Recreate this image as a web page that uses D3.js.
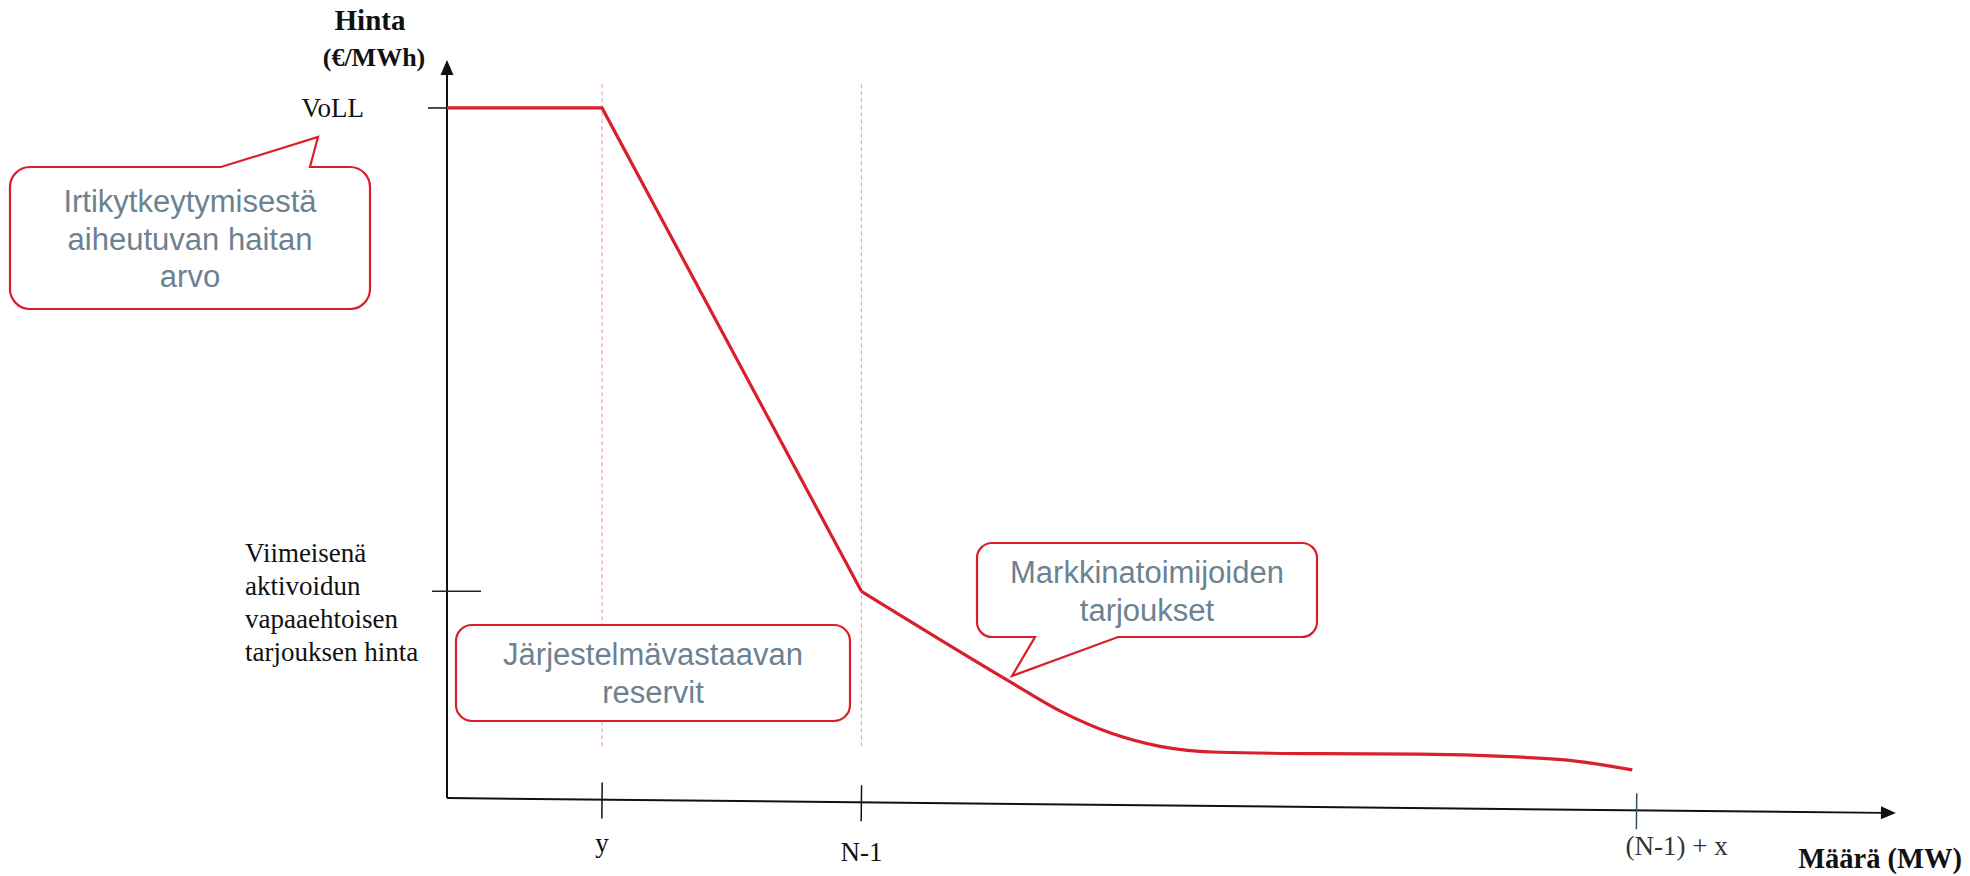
<!DOCTYPE html>
<html lang="fi">
<head>
<meta charset="UTF-8">
<title>Hinta / Määrä</title>
<script src="https://d3js.org/d3.v7.min.js"></script>
<style>
    body { margin: 0; background: #fff; }
    .serif { font-family: "Liberation Serif", "Times New Roman", serif; fill: #111; }
    .sans { font-family: "Liberation Sans", Arial, sans-serif; fill: #6c8291; }
</style>
</head>
<body>
<div id="chart"></div>
<script>
    // values in abstract units, 0..100 on both axes
    var curveHead = [[0, 93.5], [10.7, 93.5], [28.6, 28.0]];
    var curveTail = [[28.6, 28.0], [38.9, 15.7], [42.3, 11.8], [45.8, 8.8], [49.2, 7.0],
                     [53.3, 6.2], [60.2, 6.0], [67.1, 5.95], [73.4, 5.6], [77.5, 5.1],
                     [81.8, 3.8]];
    var xTickValues = [10.7, 28.6, 82.1];
    var xTickLabels = ["y", "N-1", "(N-1) + x"];
    var yTickValues = [93.5, 28.0];
    var yTickLabels = [["VoLL"], ["Viimeisenä", "aktivoidun", "vapaaehtoisen", "tarjouksen hinta"]];
    var refLineValues = [10.7, 28.6];
    var refLineRange = [7.0, 96.7];
    var calloutTexts = [
        ["Irtikytkeytymisestä", "aiheutuvan haitan", "arvo"],
        ["Järjestelmävastaavan", "reservit"],
        ["Markkinatoimijoiden", "tarjoukset"]
    ];

    var w = 1970, h = 876;
    var red = "#d9202a";

    var svg = d3.select("#chart").append("svg")
        .attr("width", w)
        .attr("height", h);

    var x = d3.scaleLinear().domain([0, 100]).range([447, 1896]);
    var y = d3.scaleLinear().domain([0, 100]).range([798, 60]);

    // reference dashed lines
    svg.selectAll(".ref")
        .data(refLineValues)
        .enter().append("line")
        .attr("x1", d => x(d)).attr("x2", d => x(d))
        .attr("y1", y(refLineRange[1])).attr("y2", y(refLineRange[0]))
        .attr("stroke", "#f3a3aa")
        .attr("stroke-width", 1.2)
        .attr("stroke-dasharray", "4,3");

    // y axis with arrow
    svg.append("line")
        .attr("x1", x(0)).attr("x2", x(0))
        .attr("y1", y(0)).attr("y2", y(100) + 12)
        .attr("stroke", "#111").attr("stroke-width", 2);
    svg.append("path")
        .attr("d", "M" + x(0) + "," + y(100) + " l-6.5,15 h13 z")
        .attr("fill", "#111");

    // y ticks: VoLL to the left only, the other one across the axis
    svg.append("line")
        .attr("x1", x(0) - 19).attr("x2", x(0))
        .attr("y1", y(yTickValues[0])).attr("y2", y(yTickValues[0]))
        .attr("stroke", "#111").attr("stroke-width", 1.5);
    svg.append("line")
        .attr("x1", x(0) - 15).attr("x2", x(0) + 34)
        .attr("y1", y(yTickValues[1])).attr("y2", y(yTickValues[1]))
        .attr("stroke", "#222").attr("stroke-width", 1.5);

    svg.append("text").attr("class", "serif")
        .attr("x", 364).attr("y", y(yTickValues[0]) + 9)
        .attr("text-anchor", "end")
        .style("font-size", "27px")
        .text(yTickLabels[0][0]);

    svg.append("text").attr("class", "serif")
        .attr("x", 245).attr("y", y(yTickValues[1]) - 29)
        .style("font-size", "27px")
        .selectAll("tspan")
        .data(yTickLabels[1])
        .enter().append("tspan")
        .attr("x", 245)
        .attr("dy", (d, i) => i ? 33 : 0)
        .text(d => d);

    // axis titles
    svg.append("text").attr("class", "serif")
        .attr("x", 370).attr("y", 30)
        .attr("text-anchor", "middle")
        .style("font-size", "29px").style("font-weight", "bold")
        .text("Hinta");
    svg.append("text").attr("class", "serif")
        .attr("x", 374).attr("y", 66)
        .attr("text-anchor", "middle")
        .style("font-size", "26px").style("font-weight", "bold")
        .text("(€/MWh)");
    svg.append("text").attr("class", "serif")
        .attr("x", 1962).attr("y", 868)
        .attr("text-anchor", "end")
        .style("font-size", "28.5px").style("font-weight", "bold")
        .text("Määrä (MW)");

    // x axis, drawn slightly slanted like the original sketch
    var tilt = Math.atan(15 / (x(100) - x(0))) * 180 / Math.PI;
    var xg = svg.append("g")
        .attr("transform", "rotate(" + tilt + "," + x(0) + "," + y(0) + ")");
    xg.append("line")
        .attr("x1", x(0)).attr("x2", x(100) - 12)
        .attr("y1", y(0)).attr("y2", y(0))
        .attr("stroke", "#111").attr("stroke-width", 2);
    xg.append("path")
        .attr("d", "M" + x(100) + "," + y(0) + " l-15,-6.5 v13 z")
        .attr("fill", "#111");
    xg.selectAll(".xtick")
        .data(xTickValues)
        .enter().append("line")
        .attr("x1", d => x(d)).attr("x2", d => x(d))
        .attr("y1", y(0) - 17).attr("y2", y(0) + 19)
        .attr("stroke", (d, i) => i === 2 ? "#34505e" : "#111")
        .attr("stroke-width", 1.5);

    svg.selectAll(".xlabel")
        .data(xTickValues)
        .enter().append("text")
        .attr("class", "serif")
        .attr("x", (d, i) => x(d) + (i === 2 ? 40 : 0))
        .attr("y", (d, i) => [852, 861, 855][i])
        .attr("text-anchor", "middle")
        .style("font-size", "27px")
        .style("fill", (d, i) => i === 2 ? "#333" : "#111")
        .text((d, i) => xTickLabels[i]);

    // the bid curve
    var line = d3.line().x(d => x(d[0])).y(d => y(d[1]));
    svg.append("path")
        .attr("d", line(curveHead))
        .attr("fill", "none").attr("stroke", red)
        .attr("stroke-width", 3.2).attr("stroke-linejoin", "miter");
    svg.append("path")
        .attr("d", line.curve(d3.curveMonotoneX)(curveTail))
        .attr("fill", "none").attr("stroke", red)
        .attr("stroke-width", 3.2);

    // callout boxes
    function callout(bx, by, bw, bh, r, ptr) {
        var p = d3.path();
        p.moveTo(bx + r, by);
        if (ptr && ptr.side === "top") {
            p.lineTo(ptr.a, by); p.lineTo(ptr.tx, ptr.ty); p.lineTo(ptr.b, by);
        }
        p.lineTo(bx + bw - r, by);
        p.arcTo(bx + bw, by, bx + bw, by + r, r);
        p.lineTo(bx + bw, by + bh - r);
        p.arcTo(bx + bw, by + bh, bx + bw - r, by + bh, r);
        if (ptr && ptr.side === "bottom") {
            p.lineTo(ptr.b, by + bh); p.lineTo(ptr.tx, ptr.ty); p.lineTo(ptr.a, by + bh);
        }
        p.lineTo(bx + r, by + bh);
        p.arcTo(bx, by + bh, bx, by + bh - r, r);
        p.lineTo(bx, by + r);
        p.arcTo(bx, by, bx + r, by, r);
        p.closePath();
        return p.toString();
    }

    var boxes = [
        {x: 10, y: 167, w: 360, h: 142, r: 20, first: 212, ptr: {side: "top", a: 221, b: 310, tx: 318, ty: 137}},
        {x: 456, y: 625, w: 394, h: 96, r: 16, first: 665, ptr: null},
        {x: 977, y: 543, w: 340, h: 94, r: 15, first: 583, ptr: {side: "bottom", a: 1035, b: 1118, tx: 1012, ty: 676}}
    ];

    boxes.forEach(function (b, i) {
        svg.append("path")
            .attr("d", callout(b.x, b.y, b.w, b.h, b.r, b.ptr))
            .attr("fill", "#fff")
            .attr("stroke", red)
            .attr("stroke-width", 2.2)
            .attr("stroke-linejoin", "miter");
        svg.append("text").attr("class", "sans")
            .attr("text-anchor", "middle")
            .attr("y", b.first)
            .style("font-size", "31px")
            .selectAll("tspan")
            .data(calloutTexts[i])
            .enter().append("tspan")
            .attr("x", b.x + b.w / 2)
            .attr("dy", (d, j) => j ? 37.5 : 0)
            .text(d => d);
    });
</script>
</body>
</html>
